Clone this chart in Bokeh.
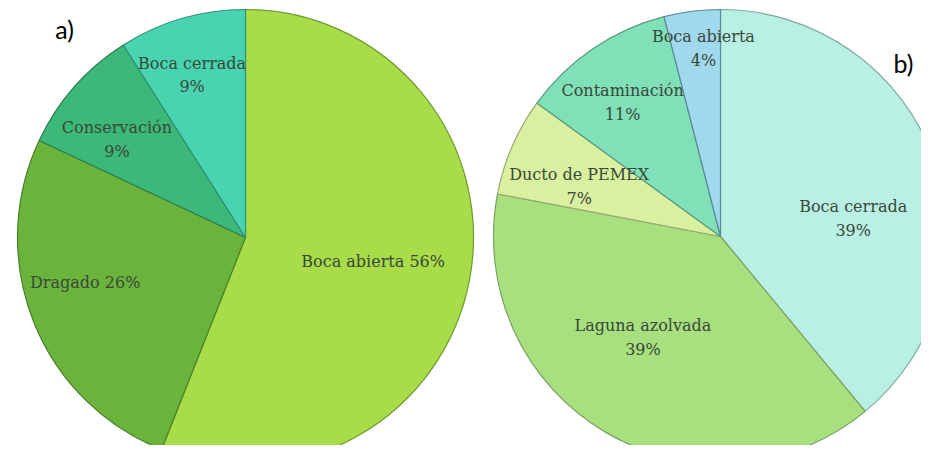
import math
from bokeh.plotting import figure
from bokeh.models import Range1d, ColumnDataSource, Label
from bokeh.core.properties import value
from bokeh.embed import file_html
from bokeh.resources import INLINE

# ---- data ----
a_categories = ["Boca abierta", "Dragado", "Conservación", "Boca cerrada"]
a_values = [56, 26, 9, 9]
a_labels = ["Boca abierta 56%", "Dragado 26%", "Conservación\n9%", "Boca cerrada\n9%"]

b_categories = ["Boca cerrada", "Laguna azolvada", "Ducto de PEMEX", "Contaminación", "Boca abierta"]
b_values = [39, 39, 7, 11, 4]
b_labels = ["Boca cerrada\n39%", "Laguna azolvada\n39%", "Ducto de PEMEX\n7%", "Contaminación\n11%", "Boca abierta\n4%"]

# ---- styles ----
a_colors = ["#a8dc48", "#6ab43c", "#3cb878", "#48d4b0"]
a_lines = ["#6f9a2c", "#4a7f2a", "#2d7d55", "#2f8f78"]
b_colors = ["#b8f0e4", "#a8e080", "#d8f0a0", "#80e0b8", "#a0d8ec"]
b_lines = ["#7fa8a0", "#7aa060", "#9aa870", "#5a9a80", "#5a8a9a"]
a_label_r = [0.57, 0.73, 0.71, 0.75]
a_label_nudge = [0, 6, -4, -2]
b_label_r = [0.59, 0.56, 0.66, 0.73, 0.83]
b_label_nudge = [12, 7, -4, -2, 2]

W, H = 921, 445
p = figure(width=W, height=H, x_range=Range1d(0, W), y_range=Range1d(0, H),
           output_backend="svg", toolbar_location=None, min_border=0)
p.axis.visible = False
p.grid.visible = False
p.outline_line_color = None
p.background_fill_color = "white"


def draw_pie(cx, cy, r, vals, colors, lines, labels, lr, nudge):
    tot = float(sum(vals))
    starts, ends, lx, ly = [], [], [], []
    cum = 0.0
    for v, f, nd in zip(vals, lr, nudge):
        s = cum / tot
        e = (cum + v) / tot
        cum += v
        starts.append(math.pi / 2 - e * 2 * math.pi)
        ends.append(math.pi / 2 - s * 2 * math.pi)
        mid = math.pi / 2 - ((s + e) / 2) * 2 * math.pi - math.radians(nd)
        lx.append(cx + f * r * math.cos(mid))
        ly.append(cy + f * r * math.sin(mid))
    src = ColumnDataSource(dict(start=starts, end=ends, fill=colors, line=lines,
                                x=[cx] * len(vals), y=[cy] * len(vals)))
    p.wedge(x="x", y="y", radius=r, start_angle="start", end_angle="end",
            fill_color="fill", line_color="line", line_width=1.2, source=src)
    tsrc = ColumnDataSource(dict(x=lx, y=ly, t=labels))
    p.text(x="x", y="y", text="t", source=tsrc, text_align="center",
           text_baseline="middle", text_font=value("DejaVu Serif"),
           text_font_size="16px", text_color="#3a473a", text_line_height=1.25)


draw_pie(245, 208, 228, a_values, a_colors, a_lines, a_labels, a_label_r, a_label_nudge)
draw_pie(720, 209, 227, b_values, b_colors, b_lines, b_labels, b_label_r, b_label_nudge)

p.add_layout(Label(x=64, y=417, text="a)", text_font="Lato", text_font_size="25px",
                   text_color="black", text_align="center", text_baseline="middle"))
p.add_layout(Label(x=903, y=383, text="b)", text_font="Lato", text_font_size="25px",
                   text_color="black", text_align="center", text_baseline="middle"))

open("out.html", "w").write(file_html(p, INLINE))
